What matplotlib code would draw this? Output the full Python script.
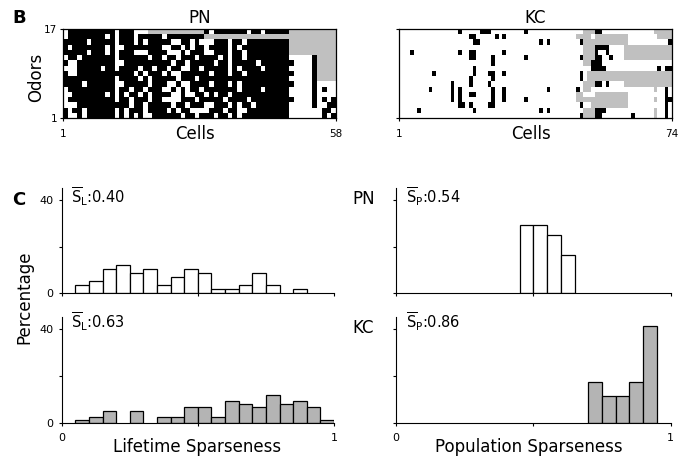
import numpy as np
import matplotlib
matplotlib.use('Agg')
import matplotlib.pyplot as plt
from matplotlib.colors import ListedColormap


# odor x cell response maps, first string = odor 17 (top row)
# 0 = no response, 1 = response, 2 = not tested
pn_raster = [
	"0111111111 1011100022 2222222222 1011111110 1101111122 22222222",
	"0111111110 1011101111 1011111111 2222222222 2222222222 22222222",
	"1111101111 1011101011 1110011010 0011101101 1111111122 22222222",
	"1011111110 1001111111 1001101011 0111101011 1111111122 22222222",
	"1111101110 1011100011 1100010111 0011101101 1111111122 22222222",
	"0110111111 1011111101 1011011101 1110101101 1111111100 00012222",
	"1001111111 1001111111 1110110111 1101101111 1011111110 00012222",
	"0001111101 1011110110 1101100110 1111101011 1101111100 00012222",
	"1001111111 1111101011 1010011111 1011101101 1111111110 00012222",
	"1111111111 1011110101 1111011101 1111111111 1111111100 00012222",
	"1111011111 1001111101 1100100111 1011101011 1111111110 00010000",
	"0111111111 1011011011 1001010110 1111111011 1101111100 00010100",
	"0011111110 1010110101 1110010011 0101101111 1111111100 00010000",
	"0111111111 1011011101 1000011101 1111011110 1111111110 00010101",
	"0001111111 1111011011 1110110111 0011101011 0111111100 00010011",
	"1011011111 1010111011 1101011000 0111011001 1111111100 00000110",
	"1001011111 1010101001 1111101101 1101101011 1111111100 00000101",
]

kc_raster = [
	"00000000 00000000 10000011 10000000 00100000 00000000 00222 11 00000000000000 22222",
	"00000000 00000000 00011000 00101000 00000000 00000000 22220 222222222 00000000 2222",
	"00000000 00000000 00001100 00000000 00000010 10000000 01 222222222222 00000000000 1",
	"00000000 00000000 00000000 00000000 00000000 00000000 00222 1111 0000 2222222222222",
	"00010000 00000000 10011000 00001000 00000000 00000000 00222 1 00 1 0000 2222222222222",
	"00000000 00000000 00011000 01000000 00100000 00000000 01222 11 00 1 000 2222222222222",
	"00000000 00000000 00000000 01000000 00000000 00000000 0022111 0000000000000000000",
	"00000000 00000000 00001000 00000000 00000000 00000000 00001111 00000000000000 1011",
	"00000000 01000000 00001000 11001000 00000000 00000000 010 22222222222222222222222",
	"00000000 00000000 00010000 01000000 00000000 00000000 010 22222222222222222222222",
	"00000000 00000010 00010000 10000000 00000000 00000000 00222 11 0 1 0000 2222222222222",
	"00000000 10000010 10000000 01001000 00000000 10000000 1022 00000000000000000 20010",
	"00000000 00000010 10011000 01001000 00000000 00000000 22000 222222222 0000000000 10",
	"00000000 00000010 10000000 01001000 00100000 00000000 22222222222222 0000000 20011",
	"00000000 00000000 11010000 11000000 00000000 00000000 0100 2222222222 0000000000 10",
	"00000100 00000000 00001000 00000000 00000010 10000000 00222111 0000000000000 20010",
	"00000000 00000000 00000000 00000000 00000000 00000000 0122211 00000000 1 00000 20010",
]

# percentage of cells (lifetime) / odors (population) per 0.05 bin, bins given by left edge
lifetime_bins = [0.05, 0.10, 0.15, 0.20, 0.25, 0.30, 0.35, 0.40, 0.45, 0.50,
				 0.55, 0.60, 0.65, 0.70, 0.75, 0.80, 0.85, 0.90, 0.95]
pn_lifetime = [3.4, 5.2, 10.3, 12.1, 8.6, 10.3, 3.4, 6.9, 10.3, 8.6,
			   1.7, 1.7, 3.4, 8.6, 3.4, 0, 1.7, 0, 0]
kc_lifetime = [1.4, 2.7, 5.4, 0, 5.4, 0, 2.7, 2.7, 6.8, 6.8,
			   2.7, 9.5, 8.1, 6.8, 12.2, 8.1, 9.5, 6.8, 1.4]

pn_population_bins = [0.45, 0.50, 0.55, 0.60]
pn_population = [29.4, 29.4, 24.8, 16.3]
kc_population_bins = [0.70, 0.75, 0.80, 0.85, 0.90]
kc_population = [17.6, 11.8, 11.8, 17.6, 41.2]

mean_text = {
	'pn_lifetime': '0.40', 'kc_lifetime': '0.63',
	'pn_population': '0.54', 'kc_population': '0.86',
}

W, H = 686, 459


def fx(x):
	return x / W


def fy(y):
	return 1 - y / H


raster_cmap = ListedColormap(['white', 'black', '#c0c0c0'])


def raster_panel(ax, rows, n_cells, title):
	"""
	draw one odor x cell response map
	"""
	mat = np.array([[int(c) for c in r.replace(' ', '')] for r in rows])
	assert mat.shape == (17, n_cells), mat.shape
	ax.imshow(mat, cmap=raster_cmap, vmin=0, vmax=2, aspect='auto',
			  interpolation='nearest', extent=(1, n_cells, 1, 17))
	ax.set_xlim(1, n_cells)
	ax.set_ylim(1, 17)
	ax.set_xticks([1, n_cells])
	ax.set_xticklabels(['1', str(n_cells)])
	ax.set_yticks([1, 17])
	ax.set_title(title, fontsize=12, pad=4)
	for s in ax.spines.values():
		s.set_linewidth(0.9)
	ax.tick_params(direction='out', length=2.5, width=0.8, labelsize=7.5)
	ax.tick_params(axis='x', pad=5.5)
	ax.tick_params(axis='y', pad=1.8)


def hist_panel(ax, bins, values, color, ylabels, xlabels):
	"""
	draw one sparseness histogram
	"""
	bins = np.asarray(bins)
	values = np.asarray(values, dtype=float)
	keep = values > 0
	ax.bar(bins[keep], values[keep], width=0.05, align='edge', color=color,
		   edgecolor='black', linewidth=0.9)
	ax.set_xlim(0, 1)
	ax.set_ylim(0, 45)
	ax.set_xticks([0, 0.5, 1])
	ax.set_yticks([0, 20, 40])
	ax.set_xticklabels(['0', '', '1'] if xlabels else ['', '', ''])
	ax.set_yticklabels(['0', '', '40'] if ylabels else ['', '', ''])
	ax.spines['top'].set_visible(False)
	ax.spines['right'].set_visible(False)
	ax.spines['left'].set_linewidth(0.8)
	ax.spines['bottom'].set_linewidth(0.8)
	ax.tick_params(direction='out', length=2.5, width=0.8, labelsize=8)
	ax.tick_params(axis='x', pad=4.3)
	ax.tick_params(axis='y', pad=3.5)


fig = plt.figure(figsize=(W / 100, H / 100), dpi=100)

ax_pn = fig.add_axes([fx(63), fy(118), 273 / W, 89 / H])
raster_panel(ax_pn, pn_raster, 58, 'PN')
ax_kc = fig.add_axes([fx(399), fy(118), 273 / W, 89 / H])
raster_panel(ax_kc, kc_raster, 74, 'KC')
ax_kc.set_yticklabels(['', ''])

ax_tl = fig.add_axes([fx(61.7), fy(293.3), 272.3 / W, 105.3 / H])
hist_panel(ax_tl, lifetime_bins, pn_lifetime, 'white', True, False)
ax_tr = fig.add_axes([fx(396), fy(293.3), 274.7 / W, 105.3 / H])
hist_panel(ax_tr, pn_population_bins, pn_population, 'white', False, False)
ax_bl = fig.add_axes([fx(61.7), fy(423.3), 272.3 / W, 106 / H])
hist_panel(ax_bl, lifetime_bins, kc_lifetime, '#b4b4b4', True, True)
ax_br = fig.add_axes([fx(396), fy(423.3), 274.7 / W, 106 / H])
hist_panel(ax_br, kc_population_bins, kc_population, '#b4b4b4', False, True)

# labels
fig.text(fx(12), fy(23), 'B', fontsize=13, fontweight='bold', ha='left', va='baseline')
fig.text(fx(12), fy(205), 'C', fontsize=13, fontweight='bold', ha='left', va='baseline')
fig.text(fx(36), fy(77), 'Odors', fontsize=12, rotation=90, ha='center', va='center')
fig.text(fx(195), fy(139), 'Cells', fontsize=12, ha='center', va='baseline')
fig.text(fx(531), fy(139), 'Cells', fontsize=12, ha='center', va='baseline')
fig.text(fx(24), fy(297), 'Percentage', fontsize=12, rotation=90, ha='center', va='center')
fig.text(fx(197), fy(452), 'Lifetime Sparseness', fontsize=12, ha='center', va='baseline')
fig.text(fx(529), fy(452), 'Population Sparseness', fontsize=12, ha='center', va='baseline')
fig.text(fx(352), fy(204), 'PN', fontsize=12, ha='left', va='baseline')
fig.text(fx(352), fy(333), 'KC', fontsize=12, ha='left', va='baseline')

s_l = r'$\overline{\mathrm{S}}_{\mathrm{L}}$:'
s_p = r'$\overline{\mathrm{S}}_{\mathrm{P}}$:'
fig.text(fx(71), fy(203), s_l + mean_text['pn_lifetime'], fontsize=10.5, va='baseline')
fig.text(fx(406), fy(203), s_p + mean_text['pn_population'], fontsize=10.5, va='baseline')
fig.text(fx(71), fy(328.5), s_l + mean_text['kc_lifetime'], fontsize=10.5, va='baseline')
fig.text(fx(406), fy(328.5), s_p + mean_text['kc_population'], fontsize=10.5, va='baseline')

fig.savefig('out.png', dpi=100)
